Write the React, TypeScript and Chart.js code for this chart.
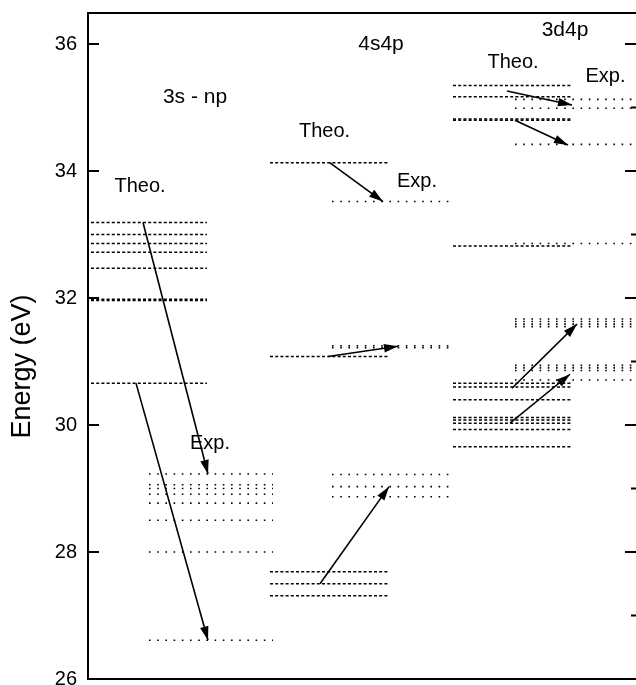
import React, { useEffect, useRef } from 'react';
import { Chart, registerables } from 'chart.js';

Chart.register(...registerables);

const FONT = '"Liberation Sans", Arial, Helvetica, sans-serif';

// Y axis
const yTickValues = [26, 28, 30, 32, 34, 36];
const yTickLabels = ['26', '28', '30', '32', '34', '36'];
const rightTickValues = [27, 28, 29, 30, 31, 32, 33, 34, 35, 36];
const yTitle = 'Energy (eV)';

// Energy levels (eV)
const groupNames = ['3s - np', '4s4p', '3d4p'];
const theo3snp = [33.19, 33.0, 32.86, 32.72, 32.47, 31.98, 31.96, 30.66];
const exp3snp = [29.23, 29.06, 29.0, 28.91, 28.77, 28.5, 28.0, 26.61];
const theo4s4p = [34.13, 31.08, 27.69, 27.5, 27.31];
const exp4s4p = [33.52, 31.25, 31.22, 29.22, 29.03, 28.87];
const theo3d4p = [35.35, 35.17, 34.82, 34.8, 32.82, 30.66, 30.6, 30.4, 30.12, 30.08, 30.03, 29.93, 29.66];
const exp3d4p = [35.13, 34.99, 34.42, 32.86, 31.67, 31.63, 31.59, 31.55, 30.94, 30.9, 30.86, 30.71];

// Transition arrows: start column position, start energy, end column position, end energy
const arrowStartX = [55, 48, 242, 240, 232, 419, 427, 424, 422];
const arrowStartE = [33.19, 30.66, 34.13, 31.08, 27.5, 35.26, 34.8, 30.58, 30.03];
const arrowEndX = [120, 120, 295, 310, 301, 484, 480, 489, 482];
const arrowEndE = [29.23, 26.61, 33.52, 31.24, 29.03, 35.04, 34.41, 31.59, 30.8];

// Annotations
const labelTexts = ['3s - np', 'Theo.', 'Exp.', '4s4p', 'Theo.', 'Exp.', '3d4p', 'Theo.', 'Exp.'];
const labelX = [107, 52, 122, 293, 236.5, 329, 477, 425, 517.5];
const labelE = [35.076, 33.674, 29.617, 35.906, 34.54, 33.753, 36.126, 35.627, 35.406];
const labelIsTitle = [true, false, false, true, false, false, true, false, false];

// Layout of columns (horizontal spans on an arbitrary x axis)
const theoSpans = [[3, 119], [182, 301], [365, 484]];
const expSpans = [[61, 185], [244, 367], [427, 560]];

const theoLevels = [theo3snp, theo4s4p, theo3d4p];
const expLevels = [exp3snp, exp4s4p, exp3d4p];

const decorPlugin = {
  id: 'decor',
  afterDatasetsDraw(chart: any) {
    const ctx = chart.ctx;
    chart.data.datasets.forEach((ds: any, i: number) => {
      if (!ds.arrow) return;
      const meta = chart.getDatasetMeta(i);
      const p0 = meta.data[0];
      const p1 = meta.data[1];
      const ang = Math.atan2(p1.y - p0.y, p1.x - p0.x);
      const L = 14;
      const W = 4.3;
      const c = Math.cos(ang);
      const s = Math.sin(ang);
      ctx.save();
      ctx.fillStyle = '#000';
      ctx.beginPath();
      ctx.moveTo(p1.x, p1.y);
      ctx.lineTo(p1.x - L * c + W * s, p1.y - L * s - W * c);
      ctx.lineTo(p1.x - L * c - W * s, p1.y - L * s + W * c);
      ctx.closePath();
      ctx.fill();
      ctx.restore();
    });
  },
  afterDraw(chart: any) {
    const ctx = chart.ctx;
    const { left, right, top, bottom } = chart.chartArea;
    const xs = chart.scales.x;
    const ys = chart.scales.y;
    ctx.save();
    ctx.strokeStyle = '#000';
    ctx.lineWidth = 2;
    ctx.strokeRect(left, top, right - left, bottom - top);
    // inward ticks
    ctx.beginPath();
    yTickValues.forEach((v) => {
      const y = ys.getPixelForValue(v);
      ctx.moveTo(left, y);
      ctx.lineTo(left + 11, y);
    });
    rightTickValues.forEach((v) => {
      const y = ys.getPixelForValue(v);
      const len = v % 2 === 0 ? 12 : 6;
      ctx.moveTo(right, y);
      ctx.lineTo(right - len, y);
    });
    ctx.stroke();
    // annotations
    ctx.fillStyle = '#000';
    ctx.textAlign = 'center';
    ctx.textBaseline = 'alphabetic';
    labelTexts.forEach((t, i) => {
      ctx.font = `${labelIsTitle[i] ? 21 : 20}px ${FONT}`;
      ctx.fillText(t, xs.getPixelForValue(labelX[i]), ys.getPixelForValue(labelE[i]));
    });
    // y axis title
    ctx.translate(22.5, (top + bottom) / 2 + 20.5);
    ctx.rotate(-Math.PI / 2);
    ctx.font = `27px ${FONT}`;
    ctx.textBaseline = 'middle';
    ctx.fillText(yTitle, 0, 0);
    ctx.restore();
  },
};

export default function App() {
  const ref = useRef<HTMLCanvasElement>(null);
  useEffect(() => {
    const canvas = ref.current;
    if (!canvas) return;
    const datasets: any[] = [];
    groupNames.forEach((_, g) => {
      theoLevels[g].forEach((e) => {
        datasets.push({
          data: [{ x: theoSpans[g][0], y: e }, { x: theoSpans[g][1], y: e }],
          borderColor: '#000',
          borderWidth: 1.5,
          borderDash: [3, 2.2],
          pointRadius: 0,
          fill: false,
        });
      });
      expLevels[g].forEach((e) => {
        datasets.push({
          data: [{ x: expSpans[g][0], y: e }, { x: expSpans[g][1], y: e }],
          borderColor: '#000',
          borderWidth: 1.6,
          borderDash: [1.6, 6.6],
          pointRadius: 0,
          fill: false,
        });
      });
    });
    arrowStartX.forEach((_, i) => {
      datasets.push({
        arrow: true,
        data: [{ x: arrowStartX[i], y: arrowStartE[i] }, { x: arrowEndX[i], y: arrowEndE[i] }],
        borderColor: '#000',
        borderWidth: 1.6,
        pointRadius: 0,
        fill: false,
      });
    });

    const chart = new Chart(canvas, {
      type: 'line',
      data: { datasets },
      options: {
        responsive: false,
        animation: false,
        devicePixelRatio: 1,
        layout: { padding: { left: 0, top: 13, right: 23, bottom: 21 } },
        plugins: { legend: { display: false }, tooltip: { enabled: false } },
        elements: { point: { radius: 0 }, line: { tension: 0 } },
        scales: {
          x: { type: 'linear', min: 0, max: 549, display: false },
          y: {
            type: 'linear',
            min: 26,
            max: 36.49,
            afterBuildTicks: (s: any) => {
              s.ticks = yTickValues.map((v) => ({ value: v }));
            },
            afterFit: (s: any) => {
              s.width = 88;
            },
            grid: { display: false, drawTicks: true, tickLength: 11 },
            border: { display: false },
            ticks: {
              color: '#000',
              padding: 0,
              font: { family: FONT, size: 20 },
              callback: (v: any) => {
                const i = yTickValues.indexOf(Number(v));
                return i >= 0 ? yTickLabels[i] : '';
              },
            },
          },
        },
      } as any,
      plugins: [decorPlugin],
    });
    return () => chart.destroy();
  }, []);

  return (
    <div
      style={{
        position: 'absolute',
        left: 0,
        top: 0,
        width: 636,
        height: 685,
        overflow: 'hidden',
        background: '#fff',
      }}
    >
      <canvas ref={ref} width={660} height={700} style={{ display: 'block' }} />
    </div>
  );
}
